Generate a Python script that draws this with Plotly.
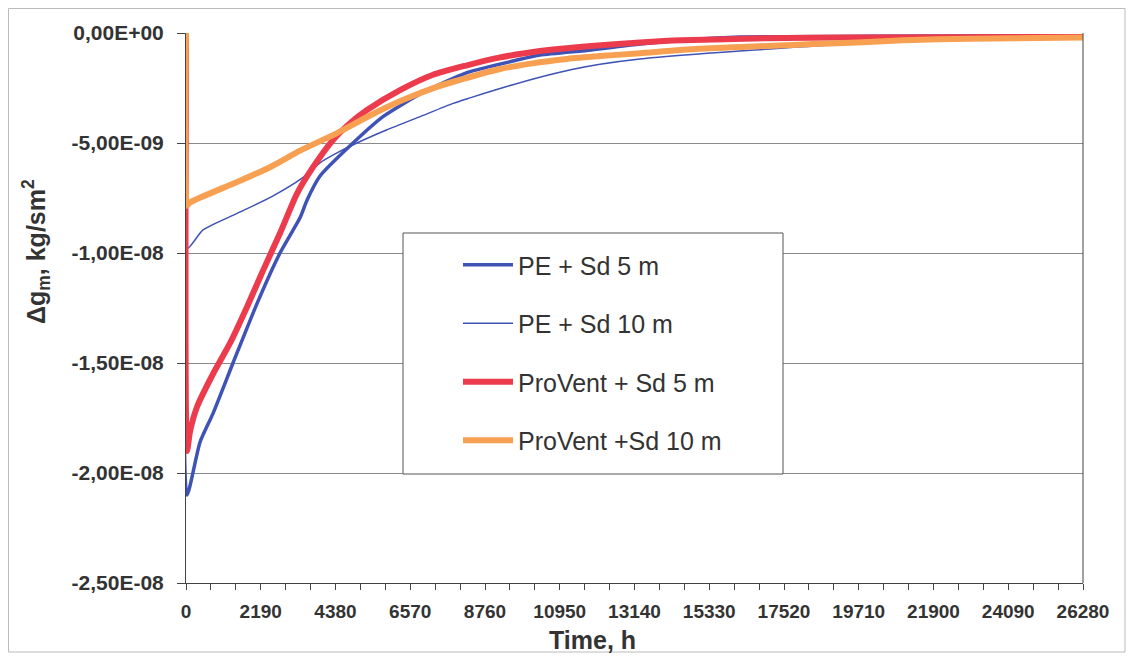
import plotly.graph_objects as go

# ---------------- data ----------------
hours_pe5 = [0, 30, 410, 790, 1377, 2080, 2754, 3340, 3545, 3926, 4893, 5772, 6944,
             8233, 9698, 10370, 11870, 13300, 14770, 16230, 20000, 26280]
dg_pe5 = [0, -21.0e-9, -18.6e-9, -17.3e-9, -15.0e-9, -12.3e-9, -10.0e-9, -8.4e-9, -7.6e-9,
          -6.5e-9, -5.0e-9, -3.8e-9, -2.7e-9, -1.8e-9, -1.23e-9, -1.0e-9, -0.77e-9,
          -0.5e-9, -0.3e-9, -0.18e-9, -0.15e-9, -0.12e-9]

hours_pe10 = [0, 30, 500, 1500, 2500, 3400, 3926, 4424, 5010, 5890, 6857, 7826, 8320,
              9250, 10200, 11340, 12130, 13300, 15270, 16230, 17100, 17900, 20000, 23000, 26280]
dg_pe10 = [0, -9.8e-9, -8.95e-9, -8.2e-9, -7.45e-9, -6.6e-9, -5.9e-9, -5.45e-9, -5.0e-9,
           -4.4e-9, -3.8e-9, -3.2e-9, -2.95e-9, -2.5e-9, -2.08e-9, -1.65e-9, -1.42e-9,
           -1.18e-9, -0.92e-9, -0.82e-9, -0.73e-9, -0.64e-9, -0.45e-9, -0.32e-9, -0.22e-9]

hours_pv5 = [0, 30, 120, 322, 791, 1289, 1787, 2256, 2754, 3252, 3721, 4307, 4805, 5303,
             6270, 7237, 8204, 9170, 10370, 11600, 13300, 14530, 16960, 19430, 26280]
dg_pv5 = [0, -19.0e-9, -18.1e-9, -17.0e-9, -15.5e-9, -14.1e-9, -12.45e-9, -10.8e-9, -9.1e-9,
          -7.3e-9, -6.1e-9, -4.86e-9, -4.1e-9, -3.5e-9, -2.6e-9, -1.9e-9, -1.48e-9, -1.12e-9,
          -0.82e-9, -0.62e-9, -0.43e-9, -0.33e-9, -0.24e-9, -0.2e-9, -0.18e-9]

hours_pv10 = [0, 30, 120, 1377, 2461, 3340, 4424, 5390, 6350, 7350, 8320, 9170, 10140,
              11160, 12130, 13300, 15000, 17200, 18370, 19830, 21000, 23000, 26280]
dg_pv10 = [0, -7.85e-9, -7.7e-9, -6.85e-9, -6.1e-9, -5.35e-9, -4.55e-9, -3.75e-9, -3.05e-9,
           -2.45e-9, -2.0e-9, -1.65e-9, -1.38e-9, -1.18e-9, -1.05e-9, -0.92e-9, -0.72e-9,
           -0.58e-9, -0.5e-9, -0.42e-9, -0.33e-9, -0.26e-9, -0.2e-9]

series_names = ["PE + Sd 5 m", "PE + Sd 10 m", "ProVent + Sd 5 m", "ProVent +Sd 10 m"]

x_tick_vals = [0, 2190, 4380, 6570, 8760, 10950, 13140, 15330, 17520, 19710, 21900, 24090, 26280]
x_tick_text = [str(v) for v in x_tick_vals]
y_tick_vals = [0, -5e-9, -1e-8, -1.5e-8, -2e-8, -2.5e-8]
y_tick_text = ["0,00E+00", "-5,00E-09", "-1,00E-08", "-1,50E-08", "-2,00E-08", "-2,50E-08"]

# ---------------- styles ----------------
BLUE = "#3f52b5"
RED = "#ec3b4d"
ORANGE = "#f8a052"
FONT = "Liberation Sans, Arial, sans-serif"
TXT = "#333333"

fig = go.Figure()
specs = [
    (hours_pe5, dg_pe5, series_names[0], BLUE, 3.5),
    (hours_pe10, dg_pe10, series_names[1], BLUE, 1.5),
    (hours_pv5, dg_pv5, series_names[2], RED, 6),
    (hours_pv10, dg_pv10, series_names[3], ORANGE, 6),
]
for i, (xs, ys, nm, col, w) in enumerate(specs):
    fig.add_trace(go.Scatter(x=xs, y=ys, name=nm, mode="lines",
                             line=dict(color=col, width=w, shape="spline", smoothing=0.6),
                             legendgroup=f"g{i}"))

# the page body has an 8px margin, so the figure is sized/offset to compensate
OFF = 8
W, H = 1134 - 2 * OFF, 661 - 2 * OFF
L, T = 186 - OFF, 33 - OFF
R = W - (1083 - OFF)
B = H - (583 - OFF)
pw, ph = W - L - R, H - T - B

def px_x(px):
    return (px - OFF - L) / pw

def px_y(py):
    return (H - B - (py - OFF)) / ph

fig.update_layout(
    width=W, height=H,
    margin=dict(l=L, r=R, t=T, b=B, autoexpand=False),
    paper_bgcolor="white", plot_bgcolor="white",
    font=dict(family=FONT, color=TXT),
    showlegend=True,
    legend=dict(
        x=px_x(458), y=px_y(242), xanchor="left", yanchor="top",
        bgcolor="rgba(0,0,0,0)", borderwidth=0,
        font=dict(size=25, family=FONT, color=TXT),
        tracegroupgap=23, itemwidth=50,
    ),
    xaxis=dict(
        range=[0, 26280], tickmode="array", tickvals=x_tick_vals, ticktext=x_tick_text,
        showgrid=False, zeroline=False, showline=True, linecolor="#444", linewidth=1,
        ticks="outside", ticklen=6, tickcolor="#444", ticklabelstandoff=5,
        tickfont=dict(size=19, family=FONT, color=TXT, weight="bold"),
        minor=dict(dtick=730, tick0=0, ticks="outside", ticklen=6, tickcolor="#444", showgrid=False),
        fixedrange=True,
    ),
    yaxis=dict(
        range=[-2.5e-8, 0], tickmode="array", tickvals=y_tick_vals, ticktext=y_tick_text,
        showgrid=True, gridcolor="#8a8a8a", gridwidth=1, zeroline=False,
        showline=True, linecolor="#444", linewidth=1,
        ticks="outside", ticklen=8, tickcolor="#444", ticklabelstandoff=9,
        tickfont=dict(size=21, family=FONT, color=TXT, weight="bold"),
        fixedrange=True,
    ),
)

# right border of plot area
fig.add_shape(type="line", xref="paper", yref="paper", x0=1, x1=1, y0=0, y1=1,
              line=dict(color="#444", width=1), layer="above")
# legend box (hides gridlines behind it)
fig.add_shape(type="rect", xref="paper", yref="paper",
              x0=px_x(403), x1=px_x(783), y0=px_y(474), y1=px_y(233),
              fillcolor="white", line=dict(color="#555", width=1), layer="above")
# faint outer frame of the scanned page
fig.add_shape(type="rect", xref="paper", yref="paper",
              x0=px_x(OFF + 0.5), x1=px_x(OFF + W - 1), y0=px_y(OFF + H - 1), y1=px_y(OFF + 0.5),
              line=dict(color="#bbbbbb", width=1), fillcolor="rgba(0,0,0,0)", layer="below")

# axis titles
fig.add_annotation(text="Δg<sub>m</sub>, kg/sm<sup>2</sup>", textangle=-90,
                   xref="paper", yref="paper", x=px_x(36), y=px_y(252),
                   xanchor="center", yanchor="middle", showarrow=False,
                   font=dict(size=25, family=FONT, color=TXT, weight="bold"))
fig.add_annotation(text="Time, h", xref="paper", yref="paper",
                   x=px_x(592), y=px_y(640), xanchor="center", yanchor="middle",
                   showarrow=False,
                   font=dict(size=25, family=FONT, color=TXT, weight="bold"))

fig.write_html("out.html")
